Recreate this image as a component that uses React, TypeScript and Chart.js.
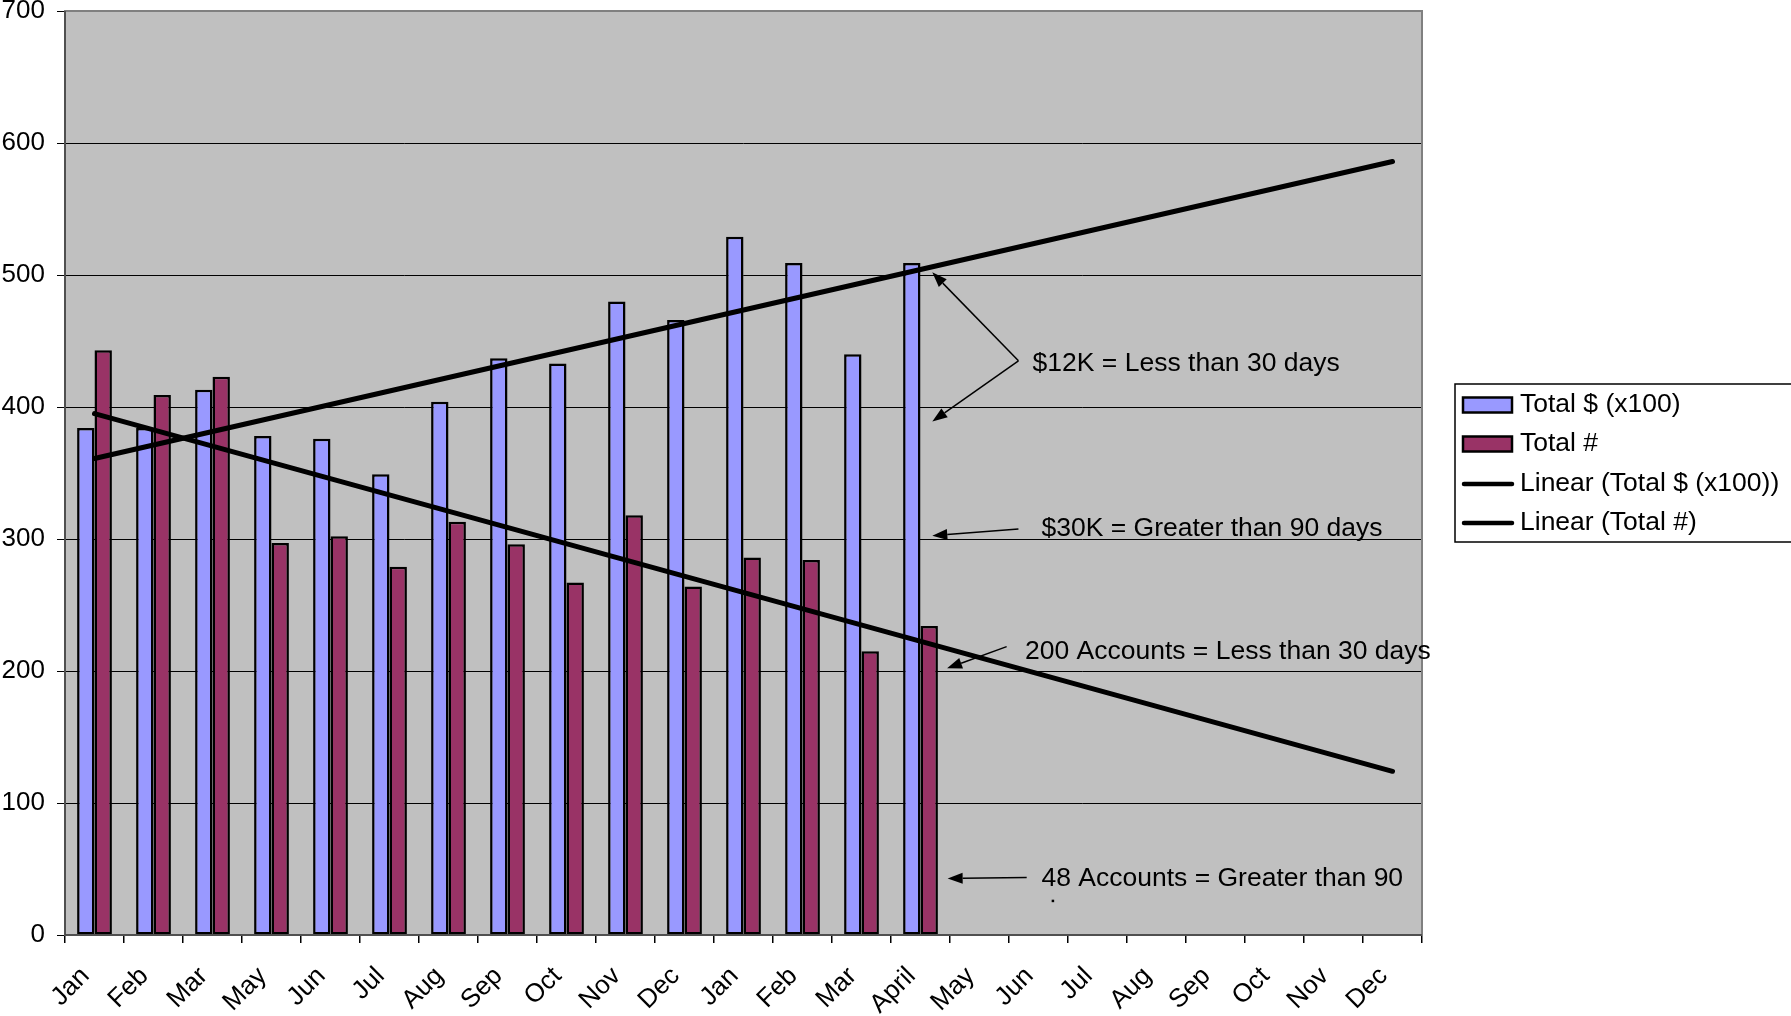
import React, { useEffect, useRef } from "react";
import { Chart, registerables } from "chart.js";

Chart.register(...registerables);

// ---------- data ----------
const categories = [
  "Jan", "Feb", "Mar", "May", "Jun", "Jul", "Aug", "Sep", "Oct", "Nov", "Dec",
  "Jan", "Feb", "Mar", "April", "May", "Jun", "Jul", "Aug", "Sep", "Oct", "Nov", "Dec",
];
const totalDollars = [384, 384, 413, 378, 376, 349, 404, 437, 433, 480, 466, 529, 509, 440, 509];
const totalCount = [443, 409, 423, 297, 302, 279, 313, 296, 267, 318, 264, 286, 284, 215, 234];
// Linear trend lines: values read at first and last category
const trendDollarsEnds = [361, 586];
const trendCountEnds = [395, 124];
const seriesNames = ["Total $ (x100)", "Total #", "Linear (Total $ (x100))", "Linear (Total #)"];
const yMin = 0;
const yMax = 700;
const yStep = 100;

const annotationTexts = [
  "$12K = Less than 30 days",
  "$30K = Greater than 90 days",
  "200 Accounts = Less than 30 days",
  "48 Accounts = Greater than 90",
];

// ---------- styles / layout ----------
const FONT = "'Liberation Sans', Arial, Helvetica, sans-serif";
const BLUE = "#9999FF";
const MAROON = "#993366";
const PLOT_BG = "#C0C0C0";

function trendSeries(ends: number[]) {
  const arr: (number | null)[] = categories.map(() => null);
  arr[0] = ends[0];
  arr[categories.length - 1] = ends[1];
  return arr;
}

// annotation layout in (category index, value) space
const annotationLayout = [
  { tx: 15.9, ty: 433, arrows: [[15.66, 435, 14.2, 502], [15.66, 435, 14.2, 389]] },
  { tx: 16.05, ty: 308, arrows: [[15.66, 307.5, 14.2, 302.5]] },
  { tx: 15.77, ty: 215, arrows: [[15.46, 218.5, 14.45, 202]] },
  { tx: 16.05, ty: 43, arrows: [[15.8, 43.5, 14.46, 42.8]] },
];

function drawArrow(ctx: CanvasRenderingContext2D, x1: number, y1: number, x2: number, y2: number) {
  const ang = Math.atan2(y2 - y1, x2 - x1);
  const len = 15;
  const hw = 5.5;
  const bx = x2 - len * Math.cos(ang);
  const by = y2 - len * Math.sin(ang);
  ctx.beginPath();
  ctx.moveTo(x1, y1);
  ctx.lineTo(bx, by);
  ctx.lineWidth = 1.5;
  ctx.strokeStyle = "#000";
  ctx.stroke();
  ctx.beginPath();
  ctx.moveTo(x2, y2);
  ctx.lineTo(bx + hw * Math.sin(ang), by - hw * Math.cos(ang));
  ctx.lineTo(bx - hw * Math.sin(ang), by + hw * Math.cos(ang));
  ctx.closePath();
  ctx.fillStyle = "#000";
  ctx.fill();
}

const plotPlugin = {
  id: "plotDecor",
  beforeDraw(chart: any) {
    const { ctx, chartArea } = chart;
    ctx.save();
    ctx.fillStyle = "#fff";
    ctx.fillRect(0, 0, chart.width, chart.height);
    ctx.fillStyle = PLOT_BG;
    ctx.fillRect(chartArea.left, chartArea.top, chartArea.right - chartArea.left, chartArea.bottom - chartArea.top);
    ctx.restore();
  },
  afterDatasetsDraw(chart: any) {
    const { ctx, chartArea } = chart;
    ctx.save();
    ctx.strokeStyle = "#808080";
    ctx.lineWidth = 2;
    ctx.strokeRect(chartArea.left, chartArea.top, chartArea.right - chartArea.left, chartArea.bottom - chartArea.top);
    ctx.beginPath();
    ctx.strokeStyle = "#404040";
    ctx.lineWidth = 1.5;
    ctx.moveTo(chartArea.left, chartArea.top);
    ctx.lineTo(chartArea.left, chartArea.bottom);
    ctx.lineTo(chartArea.right, chartArea.bottom);
    ctx.stroke();
    ctx.restore();
  },
  afterDraw(chart: any) {
    const { ctx } = chart;
    const xs = chart.scales.x;
    const ys = chart.scales.y;
    const px = (i: number) => xs.getPixelForValue(0) + i * (xs.getPixelForValue(1) - xs.getPixelForValue(0));
    ctx.save();
    // annotations
    ctx.font = `26.5px ${FONT}`;
    ctx.textBaseline = "middle";
    ctx.textAlign = "left";
    annotationLayout.forEach((a, k) => {
      ctx.fillStyle = "#000";
      ctx.fillText(annotationTexts[k], px(a.tx), ys.getPixelForValue(a.ty));
      a.arrows.forEach((ar) => {
        drawArrow(ctx, px(ar[0]), ys.getPixelForValue(ar[1]), px(ar[2]), ys.getPixelForValue(ar[3]));
      });
    });
    // small stray dot under last annotation
    ctx.fillStyle = "#000";
    ctx.fillRect(px(16.24) - 1, ys.getPixelForValue(26) - 1, 2.5, 2.5);

    // legend
    const lx = 1455;
    const ly = 384;
    ctx.fillStyle = "#fff";
    ctx.fillRect(lx, ly, 400, 158);
    ctx.strokeStyle = "#000";
    ctx.lineWidth = 1.5;
    ctx.strokeRect(lx, ly, 400, 158);
    const rows = [405, 444, 484, 523];
    const kinds = ["bar", "bar", "line", "line"];
    const fills = [BLUE, MAROON, "#000", "#000"];
    rows.forEach((ry, i) => {
      if (kinds[i] === "bar") {
        ctx.fillStyle = fills[i];
        ctx.fillRect(1463, ry - 7.5, 49, 15);
        ctx.strokeStyle = "#000";
        ctx.lineWidth = 2.5;
        ctx.strokeRect(1463, ry - 7.5, 49, 15);
      } else {
        ctx.beginPath();
        ctx.moveTo(1464, ry);
        ctx.lineTo(1512, ry);
        ctx.strokeStyle = "#000";
        ctx.lineWidth = 4.5;
        ctx.lineCap = "round";
        ctx.stroke();
      }
      ctx.fillStyle = "#000";
      ctx.font = `26.5px ${FONT}`;
      ctx.textAlign = "left";
      ctx.textBaseline = "middle";
      ctx.fillText(seriesNames[i], 1520, ry);
    });
    ctx.restore();
  },
};

export default function App() {
  const canvasRef = useRef<HTMLCanvasElement | null>(null);

  useEffect(() => {
    const canvas = canvasRef.current;
    if (!canvas) return;
    const chart = new Chart(canvas, {
      type: "bar",
      data: {
        labels: categories,
        datasets: [
          {
            type: "line",
            label: seriesNames[2],
            data: trendSeries(trendDollarsEnds),
            borderColor: "#000",
            borderWidth: 5,
            pointRadius: 0,
            spanGaps: true,
            borderCapStyle: "round",
            order: 0,
          } as any,
          {
            type: "line",
            label: seriesNames[3],
            data: trendSeries(trendCountEnds),
            borderColor: "#000",
            borderWidth: 5,
            pointRadius: 0,
            spanGaps: true,
            borderCapStyle: "round",
            order: 0,
          } as any,
          {
            type: "bar",
            label: seriesNames[0],
            data: totalDollars,
            backgroundColor: BLUE,
            borderColor: "#000",
            borderWidth: 2.5,
            borderSkipped: false,
            categoryPercentage: 0.59,
            barPercentage: 1,
            order: 1,
          } as any,
          {
            type: "bar",
            label: seriesNames[1],
            data: totalCount,
            backgroundColor: MAROON,
            borderColor: "#000",
            borderWidth: 2.5,
            borderSkipped: false,
            categoryPercentage: 0.59,
            barPercentage: 1,
            order: 1,
          } as any,
        ],
      },
      options: {
        responsive: false,
        animation: false,
        devicePixelRatio: 1,
        layout: { padding: { top: 11, right: 369, left: 0, bottom: 0 } },
        plugins: {
          legend: { display: false },
          tooltip: { enabled: false },
          title: { display: false },
        },
        scales: {
          x: {
            offset: true,
            grid: {
              display: true,
              offset: true,
              drawOnChartArea: false,
              drawTicks: true,
              tickLength: 8,
              color: "#000",
              lineWidth: 1.5,
            },
            border: { display: false },
            ticks: {
              autoSkip: false,
              minRotation: 45,
              maxRotation: 45,
              padding: 18,
              labelOffset: -9,
              color: "#000",
              font: { family: FONT, size: 26 },
            },
            afterFit: (scale: any) => {
              scale.height = 81;
              scale.paddingLeft = 0;
              scale.paddingRight = 0;
            },
          },
          y: {
            min: yMin,
            max: yMax,
            grid: {
              color: "#000",
              lineWidth: 1,
              tickLength: 8,
              drawTicks: true,
            },
            border: { display: false },
            ticks: {
              stepSize: yStep,
              padding: 12,
              color: "#000",
              font: { family: FONT, size: 26 },
            },
            afterFit: (scale: any) => {
              scale.width = 65;
              scale.paddingTop = 0;
              scale.paddingBottom = 0;
            },
          },
        },
      },
      plugins: [plotPlugin],
    });
    return () => chart.destroy();
  }, []);

  return (
    <div style={{ position: "fixed", left: 0, top: 0, width: 1791, height: 1016, background: "#fff" }}>
      <canvas ref={canvasRef} width={1791} height={1016} style={{ display: "block" }} />
    </div>
  );
}
